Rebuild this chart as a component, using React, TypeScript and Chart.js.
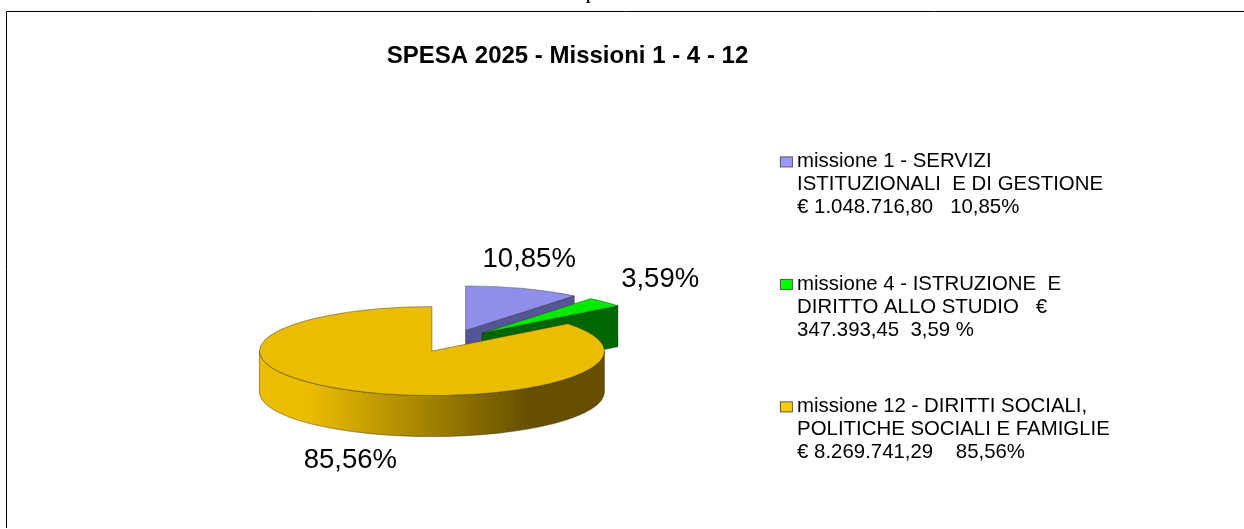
import React, { useEffect, useRef } from "react";
import { Chart, registerables } from "chart.js";

Chart.register(...registerables);

const TITLE = "SPESA 2025 - Missioni 1 - 4 - 12";
const SLICE_VALUES = [1048716.8, 347393.45, 8269741.29];
const SLICE_PERCENTS = ["10,85%", "3,59%", "85,56%"];
const LEGEND_LINES = [
  ["missione 1 - SERVIZI", "ISTITUZIONALI  E DI GESTIONE", "€ 1.048.716,80   10,85%"],
  ["missione 4 - ISTRUZIONE  E", "DIRITTO ALLO STUDIO   €", "347.393,45  3,59 %"],
  ["missione 12 - DIRITTI SOCIALI,", "POLITICHE SOCIALI E FAMIGLIE", "€ 8.269.741,29    85,56%"],
];
const TOP_COLORS = ["#8f8feb", "#00eb00", "#ebbd00"];
const LEGEND_COLORS = ["#9999ff", "#00ff00", "#ffcc00"];
const WALL_COLORS = ["#565696", "#006600", "#8a6f00"];
const LABEL_NUDGE = [[6, -29], [55, -23], [-6, 69]];

const CENTER_X = 451;
const CENTER_Y = 341;
const RADIUS = 172.5;
const SQUASH = 0.258;
const EXPLODE = 43.5;
const DEPTH = 41;

const pie3d = {
  id: "pie3d",
  beforeDraw(chart: any) {
    const { ctx } = chart;
    ctx.save();
    ctx.strokeStyle = "#000";
    ctx.lineWidth = 1;
    ctx.beginPath();
    ctx.moveTo(1244, 11.5);
    ctx.lineTo(6.5, 11.5);
    ctx.lineTo(6.5, 528);
    ctx.stroke();
    ctx.fillStyle = "#000";
    ctx.font = 'bold 16px "Liberation Serif"';
    ctx.textAlign = "left";
    ctx.textBaseline = "alphabetic";
    ctx.fillText("p", 586, -1);
    ctx.restore();
  },
  beforeDatasetsDraw(chart: any) {
    const { ctx } = chart;
    const arcs = chart.getDatasetMeta(0).data;
    arcs.forEach((arc: any, i: number) => {
      const start = arc.startAngle;
      const end = arc.endAngle;
      const mid = (start + end) / 2;
      const r = arc.outerRadius;
      const ox = CENTER_X + Math.cos(mid) * EXPLODE;
      const oy = CENTER_Y + Math.sin(mid) * EXPLODE * SQUASH;
      const px = (a: number) => ox + Math.cos(a) * r;
      const py = (a: number) => oy + Math.sin(a) * r * SQUASH;

      // outer wall (front half of the rim only)
      const wallFrom = Math.max(start, 0);
      const wallTo = Math.min(end, Math.PI);
      ctx.save();
      ctx.lineWidth = 0.6;
      ctx.strokeStyle = "rgba(50,40,0,0.75)";
      if (wallTo > wallFrom) {
        const g = ctx.createLinearGradient(ox - r, 0, ox + r, 0);
        g.addColorStop(0, "#ebbd00");
        g.addColorStop(0.14, "#ebbd00");
        g.addColorStop(0.78, "#665000");
        g.addColorStop(1, "#665000");
        ctx.fillStyle = g;
        ctx.beginPath();
        ctx.ellipse(ox, oy, r, r * SQUASH, 0, wallFrom, wallTo);
        ctx.lineTo(px(wallTo), py(wallTo) + DEPTH);
        ctx.ellipse(ox, oy + DEPTH, r, r * SQUASH, 0, wallTo, wallFrom, true);
        ctx.closePath();
        ctx.fill();
        ctx.stroke();
      }
      // radial wall on the slice's closing edge
      if (i < 2) {
        ctx.fillStyle = WALL_COLORS[i];
        ctx.beginPath();
        ctx.moveTo(ox, oy);
        ctx.lineTo(px(end), py(end));
        ctx.lineTo(px(end), py(end) + DEPTH);
        ctx.lineTo(ox, oy + DEPTH);
        ctx.closePath();
        ctx.fill();
        ctx.strokeStyle = "rgba(0,0,0,0.55)";
        ctx.stroke();
      }
      // top face, drawn by the arc element itself
      ctx.save();
      ctx.translate(ox, oy);
      ctx.scale(1, SQUASH);
      ctx.translate(-arc.x, -arc.y);
      arc.draw(ctx);
      ctx.beginPath();
      ctx.moveTo(arc.x, arc.y);
      ctx.arc(arc.x, arc.y, r, start, end);
      ctx.closePath();
      ctx.restore();
      ctx.strokeStyle = "rgba(40,40,40,0.7)";
      ctx.stroke();

      // percent label
      ctx.fillStyle = "#000";
      ctx.font = '27.5px "Liberation Sans"';
      ctx.textAlign = "center";
      ctx.textBaseline = "middle";
      ctx.fillText(SLICE_PERCENTS[i], px(mid) + LABEL_NUDGE[i][0], py(mid) + LABEL_NUDGE[i][1]);
      ctx.restore();
    });
    return false;
  },
  afterDraw(chart: any) {
    // legend keys sit closer to the text than Chart.js's fixed gap allows
    const { ctx } = chart;
    const boxes = chart.legend.legendHitBoxes;
    ctx.save();
    boxes.forEach((b: any, i: number) => {
      ctx.fillStyle = LEGEND_COLORS[i];
      ctx.strokeStyle = "#555";
      ctx.lineWidth = 1;
      ctx.fillRect(b.left + 0.5, b.top + 5.5, 12, 10);
      ctx.strokeRect(b.left + 0.5, b.top + 5.5, 12, 10);
    });
    ctx.restore();
  },
};

export default function App() {
  const ref = useRef<HTMLCanvasElement>(null);
  useEffect(() => {
    document.body.style.margin = "0";
    const chart = new Chart(ref.current as HTMLCanvasElement, {
      type: "pie",
      data: {
        labels: LEGEND_LINES.map((l) => l.join(" ")),
        datasets: [{ data: SLICE_VALUES, backgroundColor: TOP_COLORS, borderWidth: 0, radius: RADIUS }],
      },
      options: {
        responsive: false,
        animation: false,
        layout: { padding: { left: 22, right: 131, top: 42, bottom: 0 } },
        plugins: {
          tooltip: { enabled: false },
          title: {
            display: true,
            text: TITLE,
            color: "#000",
            font: { family: '"Liberation Sans"', size: 24, weight: "bold" },
            padding: { top: 0, bottom: 17 },
          },
          legend: {
            position: "right",
            fullSize: false,
            labels: {
              boxWidth: 7,
              boxHeight: 12,
              padding: 53.5,
              color: "#000",
              font: { family: '"Liberation Sans"', size: 20.4, lineHeight: "23px" },
              generateLabels: () =>
                LEGEND_LINES.map((text, i) => ({
                  text,
                  fillStyle: "rgba(0,0,0,0)",
                  strokeStyle: "rgba(0,0,0,0)",
                  lineWidth: 0,
                  index: i,
                })) as any,
            },
          },
        },
      } as any,
      plugins: [pie3d as any],
    });
    return () => chart.destroy();
  }, []);
  return <canvas ref={ref} width={1244} height={529} style={{ display: "block" }} />;
}
